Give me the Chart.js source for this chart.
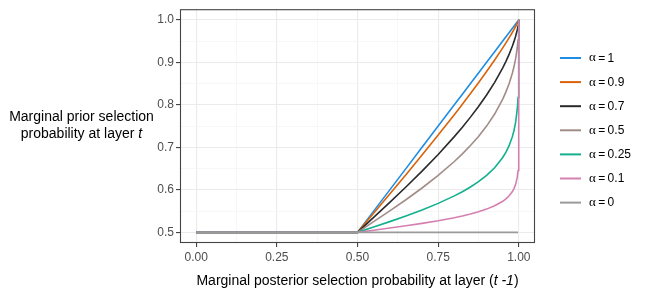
<!DOCTYPE html>
<html>
<head>
<meta charset="utf-8">
<script src="https://cdn.jsdelivr.net/npm/chart.js@4.4.1/dist/chart.umd.min.js"></script>
<style>
  html, body { margin: 0; padding: 0; background: #fff; }
  #wrap { width: 650px; height: 300px; }
</style>
</head>
<body>
<div id="wrap"><canvas id="chart" width="650" height="300"></canvas></div>
<script>
// Data
const xValues = [0, 0.5, 0.55, 0.6, 0.65, 0.7, 0.75, 0.8, 0.825, 0.85, 0.875, 0.9, 0.925, 0.95, 0.96, 0.97, 0.98, 0.985, 0.99, 0.995, 0.9975, 0.999, 0.9995, 0.9999, 1]

const alpha1 = [0.5, 0.5, 0.55, 0.6, 0.65, 0.7, 0.75, 0.8, 0.825, 0.85, 0.875, 0.9, 0.925, 0.95, 0.96, 0.97, 0.98, 0.985, 0.99, 0.995, 0.9975, 0.999, 0.9995, 0.9999, 1]
const alpha09 = [0.5, 0.5, 0.545, 0.5902, 0.6358, 0.6819, 0.7288, 0.7769, 0.8015, 0.8265, 0.8522, 0.8784, 0.9056, 0.934, 0.9458, 0.958, 0.9708, 0.9774, 0.9843, 0.9915, 0.9955, 0.998, 0.9989, 0.9998, 1]
const alpha07 = [0.5, 0.5, 0.5351, 0.5705, 0.6067, 0.6441, 0.6833, 0.7252, 0.7475, 0.7711, 0.7961, 0.8232, 0.853, 0.8871, 0.9024, 0.9194, 0.9384, 0.9493, 0.9614, 0.976, 0.9851, 0.9921, 0.9951, 0.9984, 1]
const alpha05 = [0.5, 0.5, 0.5251, 0.5505, 0.5768, 0.6044, 0.634, 0.6667, 0.6847, 0.7042, 0.7257, 0.75, 0.7783, 0.8135, 0.8305, 0.8504, 0.875, 0.8901, 0.9087, 0.9338, 0.9523, 0.9693, 0.9781, 0.9901, 1]
const alpha025 = [0.5, 0.5, 0.5125, 0.5253, 0.5386, 0.5528, 0.5682, 0.5858, 0.5957, 0.6068, 0.6193, 0.634, 0.6521, 0.6762, 0.6888, 0.7045, 0.7257, 0.74, 0.7593, 0.7897, 0.8172, 0.8491, 0.87, 0.9091, 1]
const alpha01 = [0.5, 0.5, 0.505, 0.5101, 0.5155, 0.5212, 0.5274, 0.5346, 0.5387, 0.5433, 0.5485, 0.5547, 0.5625, 0.5731, 0.5788, 0.586, 0.5961, 0.6031, 0.6129, 0.6293, 0.6454, 0.6661, 0.6814, 0.7153, 1]
const alpha0 = [0.5, 0.5, 0.5, 0.5, 0.5, 0.5, 0.5, 0.5, 0.5, 0.5, 0.5, 0.5, 0.5, 0.5, 0.5, 0.5, 0.5, 0.5, 0.5, 0.5, 0.5, 0.5, 0.5, 0.5, 0.5]

const alphaLabels = ["1", "0.9", "0.7", "0.5", "0.25", "0.1", "0"]
const seriesValues = [alpha1, alpha09, alpha07, alpha05, alpha025, alpha01, alpha0]

const xTicks = [0, 0.25, 0.5, 0.75, 1]
const xMinorTicks = [0.125, 0.375, 0.625, 0.875]
const yTicks = [0.5, 0.6, 0.7, 0.8, 0.9, 1.0]
const yMinorTicks = [0.55, 0.65, 0.75, 0.85, 0.95]

// Styles
const lineColors = ["#1f8de3", "#d9630a", "#2a2a2a", "#a28c88", "#12b08e", "#d57fb0", "#9a9a9a"]
const FONT = "'Liberation Sans', Arial, sans-serif"

const isMajor = (v, list) => list.some((t) => Math.abs(t - v) < 1e-9)

const datasets = seriesValues.map((vals, i) => ({
  label: "\u03b1\u2009=\u2009" + alphaLabels[i],
  data: xValues.map((x, j) => ({ x: x, y: vals[j] })),
  borderColor: lineColors[i],
  backgroundColor: lineColors[i],
  borderWidth: 1.6,
  pointRadius: 0,
  tension: 0,
  fill: false,
  // later series drawn on top, like ggplot
  order: seriesValues.length - i,
}))

const decorPlugin = {
  id: "decor",
  beforeDraw(chart) {
    const ctx = chart.ctx
    ctx.save()
    ctx.fillStyle = "#fff"
    ctx.fillRect(0, 0, chart.width, chart.height)
    ctx.restore()
  },
  afterDraw(chart) {
    const ctx = chart.ctx
    const a = chart.chartArea
    ctx.save()

    // panel border
    ctx.strokeStyle = "#444"
    ctx.lineWidth = 1.1
    ctx.strokeRect(a.left + 0.5, a.top + 0.5, a.right - a.left - 1, a.bottom - a.top - 1)

    // y axis title (two lines, horizontal)
    ctx.fillStyle = "#000"
    ctx.textBaseline = "alphabetic"
    ctx.textAlign = "left"
    ctx.font = "14px " + FONT
    const cx = 81.5
    const l1 = "Marginal prior selection"
    ctx.fillText(l1, cx - ctx.measureText(l1).width / 2, 120.5)
    const l2a = "probability at layer "
    const w2a = ctx.measureText(l2a).width
    ctx.font = "italic 14px " + FONT
    const w2b = ctx.measureText("t").width
    let sx = cx - (w2a + w2b) / 2
    ctx.font = "14px " + FONT
    ctx.fillText(l2a, sx, 137.5)
    ctx.font = "italic 14px " + FONT
    ctx.fillText("t", sx + w2a, 137.5)

    // x axis title
    const p1 = "Marginal posterior selection probability at layer ("
    const p2 = "t -1"
    const p3 = ")"
    ctx.font = "14px " + FONT
    const w1 = ctx.measureText(p1).width
    const w3 = ctx.measureText(p3).width
    ctx.font = "italic 14px " + FONT
    const w2 = ctx.measureText(p2).width
    sx = (a.left + a.right) / 2 - (w1 + w2 + w3) / 2
    const by = 285
    ctx.font = "14px " + FONT
    ctx.fillText(p1, sx, by)
    ctx.font = "italic 14px " + FONT
    ctx.fillText(p2, sx + w1, by)
    ctx.font = "14px " + FONT
    ctx.fillText(p3, sx + w1 + w2, by)

    // legend
    chart.data.datasets.forEach((ds, i) => {
      const y = 58 + i * 24.1
      ctx.strokeStyle = ds.borderColor
      ctx.lineWidth = 2
      ctx.beginPath()
      ctx.moveTo(560, y)
      ctx.lineTo(581, y)
      ctx.stroke()
      ctx.fillStyle = "#000"
      ctx.textBaseline = "middle"
      ctx.font = "13px 'Liberation Serif', serif"
      ctx.fillText("\u03b1", 589, y)
      const wa = ctx.measureText("\u03b1").width
      ctx.font = "12px " + FONT
      ctx.fillText("\u2009=\u2009" + alphaLabels[i], 589 + wa, y + 0.5)
    })
    ctx.restore()
  },
}

function gridColor(list, major, minor) {
  return (c) => (c.tick && isMajor(c.tick.value, list) ? major : minor)
}

new Chart(document.getElementById("chart"), {
  type: "line",
  data: { datasets: datasets },
  options: {
    responsive: false,
    devicePixelRatio: 1,
    animation: false,
    layout: { padding: { left: 150, right: 115, top: 8, bottom: 0 } },
    plugins: {
      legend: { display: false },
      tooltip: { enabled: false },
    },
    scales: {
      x: {
        type: "linear",
        min: -0.05,
        max: 1.05,
        afterBuildTicks: (scale) => {
          scale.ticks = xTicks.concat(xMinorTicks).sort((p, q) => p - q).map((v) => ({ value: v }))
        },
        afterFit: (scale) => {
          scale.height = 57
        },
        border: { display: false },
        grid: {
          color: gridColor(xTicks, "#ebebeb", "#f4f4f4"),
          lineWidth: (c) => (c.tick && isMajor(c.tick.value, xTicks) ? 1.1 : 0.7),
          tickColor: (c) => (c.tick && isMajor(c.tick.value, xTicks) ? "#444" : "rgba(0,0,0,0)"),
          tickLength: 4,
          tickWidth: 1.1,
        },
        ticks: {
          autoSkip: false,
          maxRotation: 0,
          padding: 3,
          color: "#4d4d4d",
          font: { family: FONT, size: 12 },
          callback: (v) => (isMajor(v, xTicks) ? v.toFixed(2) : ""),
        },
      },
      y: {
        type: "linear",
        min: 0.475,
        max: 1.025,
        afterBuildTicks: (scale) => {
          scale.ticks = yTicks.concat(yMinorTicks).sort((p, q) => p - q).map((v) => ({ value: v }))
        },
        afterFit: (scale) => {
          scale.width = 30
        },
        border: { display: false },
        grid: {
          color: gridColor(yTicks, "#ebebeb", "#f4f4f4"),
          lineWidth: (c) => (c.tick && isMajor(c.tick.value, yTicks) ? 1.1 : 0.7),
          tickColor: (c) => (c.tick && isMajor(c.tick.value, yTicks) ? "#444" : "rgba(0,0,0,0)"),
          tickLength: 4,
          tickWidth: 1.1,
        },
        ticks: {
          autoSkip: false,
          padding: 2,
          color: "#4d4d4d",
          font: { family: FONT, size: 12 },
          callback: (v) => (isMajor(v, yTicks) ? v.toFixed(1) : ""),
        },
      },
    },
  },
  plugins: [decorPlugin],
})
</script>
</body>
</html>
